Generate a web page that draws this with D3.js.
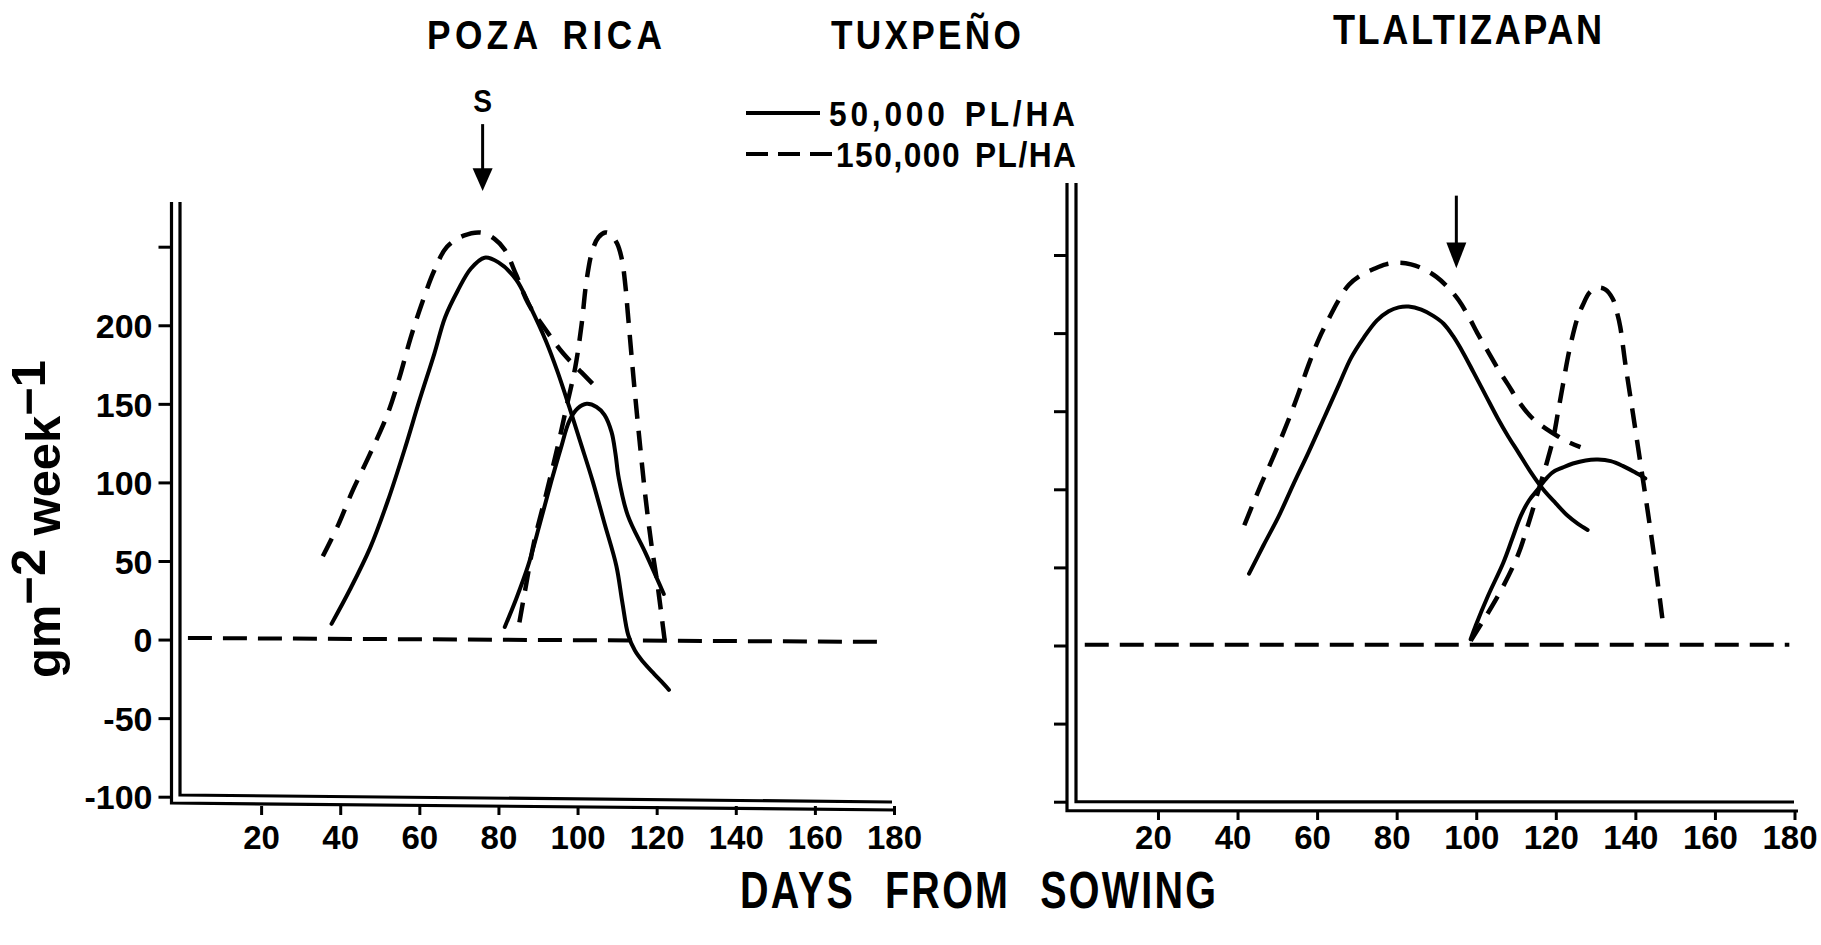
<!DOCTYPE html>
<html><head><meta charset="utf-8">
<script src="https://cdn.jsdelivr.net/npm/d3@7"></script>
<style>
html,body{margin:0;padding:0;background:#fff;}
svg{display:block;background:#fff;}
text{font-family:"Liberation Sans",Arial,"DejaVu Sans",sans-serif;font-weight:bold;fill:#000;}
</style></head><body>
<svg id="chart" width="1821" height="945"></svg>
<script>
// ---------- data ----------
const dayTicks = [20, 40, 60, 80, 100, 120, 140, 160, 180];
const valueTicks = [250, 200, 150, 100, 50, 0, -50, -100];
const valueTickLabels = ["", "200", "150", "100", "50", "0", "-50", "-100"];

const panelTitles = ["POZA RICA", "TUXPEÑO", "TLALTIZAPAN"];
const legendLabels = ["50,000 PL/HA", "150,000 PL/HA"];
const xTitle = "DAYS FROM SOWING";

// Poza Rica (left panel): [day, g m-2 week-1]
const pr50a = [[37.8,10],[42.5,32],[47.5,58],[52,88],[56.4,122],[60,152],[63.8,182],[66.5,205],[69.7,222],[73,236],[76.5,243],[80,240],[84.5,229],[88,212],[92,190],[95,170],[97.9,148],[100.8,125],[103.8,101],[106.8,74],[109.8,47],[111.3,24],[112.8,3],[114.5,-7],[116.5,-14],[119.4,-22],[121.3,-27],[123.1,-32]];
const pr50b = [[81.6,8],[84.5,26],[87.5,47],[90.5,74],[93.4,101],[95.8,122],[97.9,139],[100,147],[102.3,150],[104.8,148],[106.8,143],[108.6,132],[109.6,118],[110.4,103],[112.7,79],[117.2,55],[121.8,29]];
const pr150a = [[35.6,53],[39.5,73],[43,94],[47.5,118],[51.9,143],[55,167],[57.8,192],[60.8,215],[63.8,235],[67,250],[71.2,257],[75.6,259],[79,255],[81.6,248],[84.5,232],[87.5,214],[92,197],[96.4,182],[101,170],[105.3,159]];
const pr150b = [[85.3,11],[87,35],[89,62],[92,92],[94.9,122],[97.2,148],[99.4,173],[101,200],[102.3,229],[103.8,248],[105.3,256],[107,259],[108.3,258],[110,252],[111.2,242],[112.1,225],[112.7,208],[114.2,165],[115.7,126],[117.2,90],[118.7,60],[120.1,37],[121.6,8],[122,0]];
const prZero = [[1.5,1],[178,-1.5]];

// Tlaltizapan (right panel)
const tl50a = [[42.9,46],[46.5,64],[50.4,83],[54,103],[57.9,124],[61.8,146],[65.5,167],[68.5,184],[71.7,197],[75,208],[78,214],[80.5,216.5],[83,217],[86.2,215],[89.2,211],[91.8,206],[94.2,198],[96.8,187],[99.3,175],[102.4,160],[105.5,145],[108,134],[110.5,124],[113.7,111],[116.8,100],[120,91],[123,83],[125.5,78],[128,74]];
const tl50b = [[98.6,4],[99.9,13],[103,32],[106.8,53],[109,68],[111.2,83],[113.3,93],[115.5,100],[117.3,106],[119.3,111],[121.8,114],[124.3,116.5],[127.5,118.5],[130.6,119],[133.8,118],[136.8,115],[139.8,111],[142.5,107]];
const tl150a = [[41.7,77],[45.4,100],[49.2,122],[52.9,145],[55.4,162],[57.9,180],[60.4,196],[62.9,209],[65.4,221],[68,231],[71,237],[74.2,241],[77.3,244],[80.5,245],[83.6,244],[86.8,241],[90,236],[93,229],[95.6,221],[98,211],[100.5,199],[103,188],[105.5,177],[108,167],[111,155],[114.3,145],[117.4,139],[120.5,134],[123.4,130],[126.2,127]];
const tl150b = [[98.6,3],[100.8,12],[103,21],[106.8,38],[110.5,58],[113,77],[115.5,98],[117.5,115],[119.3,132],[120.6,150],[121.8,167],[123,184],[124.3,199],[125.5,210],[126.8,218],[128.5,226],[130.4,229],[132.4,228],[134.3,222],[135.4,213],[136.2,204],[137.5,180],[139.3,150],[141.2,118],[143.1,86],[144.9,54],[146.8,17]];
const tlZero = [[1.6,0.5],[178.7,0.5]];

// sowing-date style arrows: [day, top value, head-start value, tip value]
const prArrow = [76, 328, 300, 285.5];
const tlArrow = [95, 288, 258, 241.5];
const prArrowLabel = "S";

// ---------- helpers ----------
const svg = d3.select("#chart");
// narrow lettering: glyphs squeezed horizontally, spacing stretched to given width
function letterText(x, y, str, size, width, sx, ws) {
  return svg.append("text")
    .attr("transform", `translate(${x},${y}) scale(${sx},1)`)
    .attr("font-size", size)
    .style("word-spacing", (ws || 0) + "px")
    .attr("textLength", width / sx).attr("lengthAdjust", "spacing")
    .text(str);
}

// ---------- scales ----------
const xLeft = d3.scaleLinear().domain([0, 180]).range([182, 894]);
const yLeft = d3.scaleLinear().domain([-100, 250]).range([796.7, 246.7]);
const xRight = d3.scaleLinear().domain([0, 180]).range([1078.4, 1794.5]);
const yRight = d3.scaleLinear().domain([-100, 250]).range([801.7, 255]);

const panels = [
  {x: xLeft, y: yLeft, s50: [pr50a, pr50b], s150: [pr150a, pr150b], zero: prZero, arrow: prArrow, label: prArrowLabel,
   outerV: 171.5, innerV: 180, top: 202, outerB: [803, 810], innerB: [795, 802], right: 894, xAxisY: 806, tickLabels: true, labelDx: 0},
  {x: xRight, y: yRight, s50: [tl50a, tl50b], s150: [tl150a, tl150b], zero: tlZero, arrow: tlArrow, label: null,
   outerV: 1067, innerV: 1076, top: 183, outerB: [810.7, 811], innerB: [801.7, 802], right: 1796, xAxisY: 811, tickLabels: false, labelDx: -5}
];

panels.forEach(p => {
  const g = svg.append("g");
  // frame (double axis lines)
  g.append("path")
    .attr("d", `M${p.outerV},${p.top} L${p.outerV},${p.outerB[0]} L${p.right + 2},${p.outerB[1]}`)
    .attr("fill", "none").attr("stroke", "#000").attr("stroke-width", 3.2);
  g.append("path")
    .attr("d", `M${p.innerV},${p.top} L${p.innerV},${p.innerB[0]} L${p.right - 2},${p.innerB[1]}`)
    .attr("fill", "none").attr("stroke", "#000").attr("stroke-width", 3.2);

  // y axis
  const ya = d3.axisLeft(p.y).tickValues(valueTicks).tickSize(13).tickPadding(6)
    .tickFormat((d, i) => p.tickLabels ? valueTickLabels[i] : "");
  const yg = g.append("g").attr("transform", `translate(${p.outerV},0)`).call(ya);
  yg.select(".domain").remove();
  yg.selectAll(".tick line").attr("stroke", "#000").attr("stroke-width", 3);
  yg.selectAll(".tick text").attr("font-size", 34).attr("dy", "0.36em")
    .style("font-family", '"Liberation Sans",Arial,sans-serif').style("font-weight", "bold");

  // x axis
  const xa = d3.axisBottom(p.x).tickValues(dayTicks).tickSize(9).tickFormat(d3.format("d"));
  const xg = g.append("g").attr("transform", `translate(0,${p.xAxisY})`).call(xa);
  xg.select(".domain").remove();
  xg.selectAll(".tick line").attr("stroke", "#000").attr("stroke-width", 3);
  xg.selectAll(".tick text").attr("font-size", 33).attr("y", 849 - p.xAxisY).attr("dy", 0).attr("dx", p.labelDx)
    .style("font-family", '"Liberation Sans",Arial,sans-serif').style("font-weight", "bold");

  const line = d3.line().x(d => p.x(d[0])).y(d => p.y(d[1])).curve(d3.curveCatmullRom.alpha(0.5));

  // zero reference line
  g.append("path").attr("d", line(p.zero)).attr("fill", "none").attr("stroke", "#000")
    .attr("stroke-width", 4).attr("stroke-dasharray", "24 11");

  p.s50.forEach(s => g.append("path").attr("d", line(s)).attr("fill", "none")
    .attr("stroke", "#000").attr("stroke-width", 4).attr("stroke-linecap", "round").attr("stroke-linejoin", "round"));
  p.s150.forEach(s => g.append("path").attr("d", line(s)).attr("fill", "none")
    .attr("stroke", "#000").attr("stroke-width", 4.5).attr("stroke-dasharray", "20 12"));

  // arrow
  const ax = p.x(p.arrow[0]);
  g.append("line").attr("x1", ax).attr("x2", ax).attr("y1", p.y(p.arrow[1])).attr("y2", p.y(p.arrow[2]) + 2)
    .attr("stroke", "#000").attr("stroke-width", 3);
  g.append("path")
    .attr("d", `M${ax - 10},${p.y(p.arrow[2])} L${ax + 10},${p.y(p.arrow[2])} L${ax},${p.y(p.arrow[3])} Z`)
    .attr("fill", "#000");
  if (p.label) {
    svg.append("text").attr("transform", `translate(${ax},112) scale(0.88,1)`).attr("text-anchor", "middle")
      .attr("font-size", 32).text(p.label);
  }
});

// titles
const titleSpecs = [
  {x: 427, y: 49, w: 235, size: 41},
  {x: 831, y: 49, w: 190, size: 41},
  {x: 1333, y: 44, w: 269, size: 42}
];
panelTitles.forEach((t, i) => {
  const s = titleSpecs[i];
  letterText(s.x, s.y, t, s.size, s.w, 0.86, 8);
});

// legend
const legendRows = [{y: 113, x2: 820, dash: null, tx: 829, tw: 246}, {y: 154, x2: 832, dash: "22 10", tx: 836, tw: 240}];
legendRows.forEach((r, i) => {
  svg.append("line").attr("x1", 746).attr("x2", r.x2).attr("y1", r.y).attr("y2", r.y)
    .attr("stroke", "#000").attr("stroke-width", 4).attr("stroke-dasharray", r.dash);
  letterText(r.tx, r.y + 13, legendLabels[i], 36, r.tw, 0.88, 4);
});

// x axis title
letterText(740, 908, xTitle, 52, 476, 0.76, 22);

// y axis title (rotated)
const yt = svg.append("text").attr("transform", "translate(60,678) rotate(-90)")
  .attr("font-size", 48).attr("textLength", 318).attr("lengthAdjust", "spacingAndGlyphs");
yt.append("tspan").text("gm");
yt.append("tspan").attr("dy", -15).text("−2");
yt.append("tspan").attr("dy", 15).text("  week");
yt.append("tspan").attr("dy", -15).text("−1");
</script>
</body></html>
